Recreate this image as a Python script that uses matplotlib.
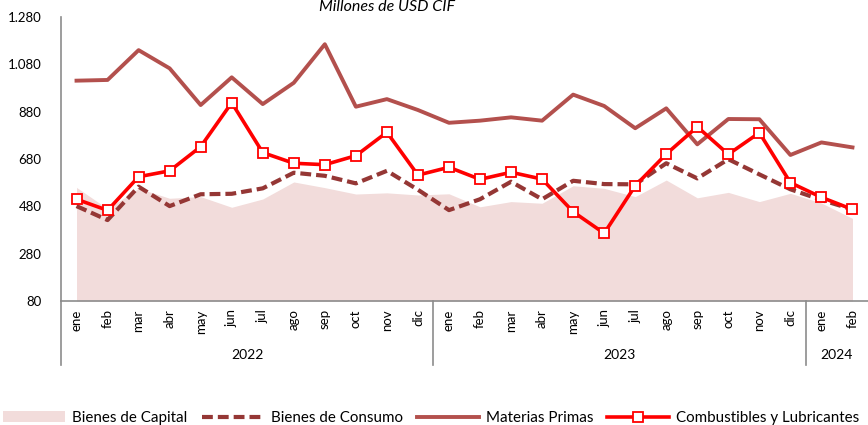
import matplotlib
matplotlib.use("Agg")
import matplotlib.pyplot as plt
from matplotlib.patches import Patch
from matplotlib.lines import Line2D
from matplotlib.ticker import FuncFormatter
import matplotlib.transforms as mtransforms

plt.rcParams['font.family'] = ['Lato', 'DejaVu Sans']

months = ["ene", "feb", "mar", "abr", "may", "jun", "jul", "ago", "sep", "oct", "nov", "dic",
          "ene", "feb", "mar", "abr", "may", "jun", "jul", "ago", "sep", "oct", "nov", "dic",
          "ene", "feb"]
years = ["2022", "2023", "2024"]
year_counts = [12, 12, 2]

bienes_capital = [560, 470, 556, 514, 521, 476, 511, 583, 559, 532, 537, 528,
                  533, 478, 500, 493, 567, 556, 521, 591, 516, 539, 500, 535,
                  494, 429]
bienes_consumo = [481, 422, 563, 481, 531, 533, 556, 622, 609, 577, 630, 550,
                  464, 510, 584, 510, 588, 574, 573, 662, 598, 679, 615, 552,
                  507, 467]
materias_primas = [1011, 1014, 1140, 1063, 908, 1025, 912, 1002, 1165, 901, 933, 887,
                   833, 842, 856, 842, 952, 904, 810, 894, 742, 849, 848, 697,
                   750, 729]
combustibles = [510, 463, 605, 630, 732, 918, 707, 662, 656, 694, 793, 612,
                645, 594, 624, 595, 457, 366, 567, 701, 816, 700, 791, 580,
                518, 467]

yticks = [80, 280, 480, 680, 880, 1080, 1280]

c_area = "#f2dcdb"
c_cons = "#953735"
c_mat = "#b3504d"
c_comb = "#ff0000"
c_axis = "#8c8c8c"
dash = (2.6, 1.2)

fig = plt.figure(figsize=(8.68, 4.25), dpi=100)
ax = fig.add_axes([61/868, 1 - 301/425, 1 - 61/868, (301 - 17)/425])

x = list(range(len(months)))
ax.fill_between(x, 80, bienes_capital, color=c_area, linewidth=0, zorder=1)
ax.plot(x, bienes_consumo, color=c_cons, lw=3, dashes=dash, zorder=3)
ax.plot(x, materias_primas, color=c_mat, lw=2.8, zorder=2)
ax.plot(x, combustibles, color=c_comb, lw=2.6, marker='s', markersize=6.5,
        markerfacecolor='white', markeredgecolor=c_comb, markeredgewidth=1.3, zorder=4)

ax.set_xlim(-0.5, len(months) - 0.5)
ax.set_ylim(80, 1280)
ax.set_yticks(yticks)
ax.yaxis.set_major_formatter(FuncFormatter(lambda v, p: f"{int(v):,}".replace(",", ".")))
ax.tick_params(axis='y', length=0, pad=14, labelsize=9.5, colors='#000000')

ax.set_xticks(x)
ax.set_xticklabels(months, rotation=90, fontsize=9.5)
ax.tick_params(axis='x', length=0, pad=6)

for s in ['top', 'right']:
    ax.spines[s].set_visible(False)
for s in ['left', 'bottom']:
    ax.spines[s].set_color(c_axis)
    ax.spines[s].set_linewidth(1.2)

# group separators and year labels
trans = mtransforms.blended_transform_factory(ax.transData, ax.transAxes)
sep_depth = -(365 - 301) / 284
start = 0
bounds = [-0.5]
for yr, n in zip(years, year_counts):
    center = start + (n - 1) / 2
    ax.text(center, -(355 - 301) / 284, yr, transform=trans, ha='center', va='center', fontsize=10)
    start += n
    bounds.append(start - 0.5)
for b in bounds[:-1]:
    ax.add_line(Line2D([b, b], [0, sep_depth], transform=trans, color=c_axis, lw=1.2, clip_on=False))

fig.text(0.446, 0.999, "Millones de USD CIF", ha='center', va='top', fontsize=11.5, style='italic')

handles = [
    Patch(facecolor=c_area, edgecolor='none'),
    Line2D([], [], color=c_cons, lw=3, dashes=dash),
    Line2D([], [], color=c_mat, lw=2.8),
    Line2D([], [], color=c_comb, lw=2.6, marker='s', markersize=6.5,
           markerfacecolor='white', markeredgecolor=c_comb, markeredgewidth=1.3),
]
labels = ["Bienes de Capital", "Bienes de Consumo", "Materias Primas", "Combustibles y Lubricantes"]
fig.legend(handles, labels, loc='center', bbox_to_anchor=(0.497, 1 - 418/425), ncol=4, frameon=False,
           fontsize=10.9, handlelength=4.1, handletextpad=0.46, columnspacing=0.93, borderpad=0, borderaxespad=0)

fig.savefig("out.png", dpi=100)
